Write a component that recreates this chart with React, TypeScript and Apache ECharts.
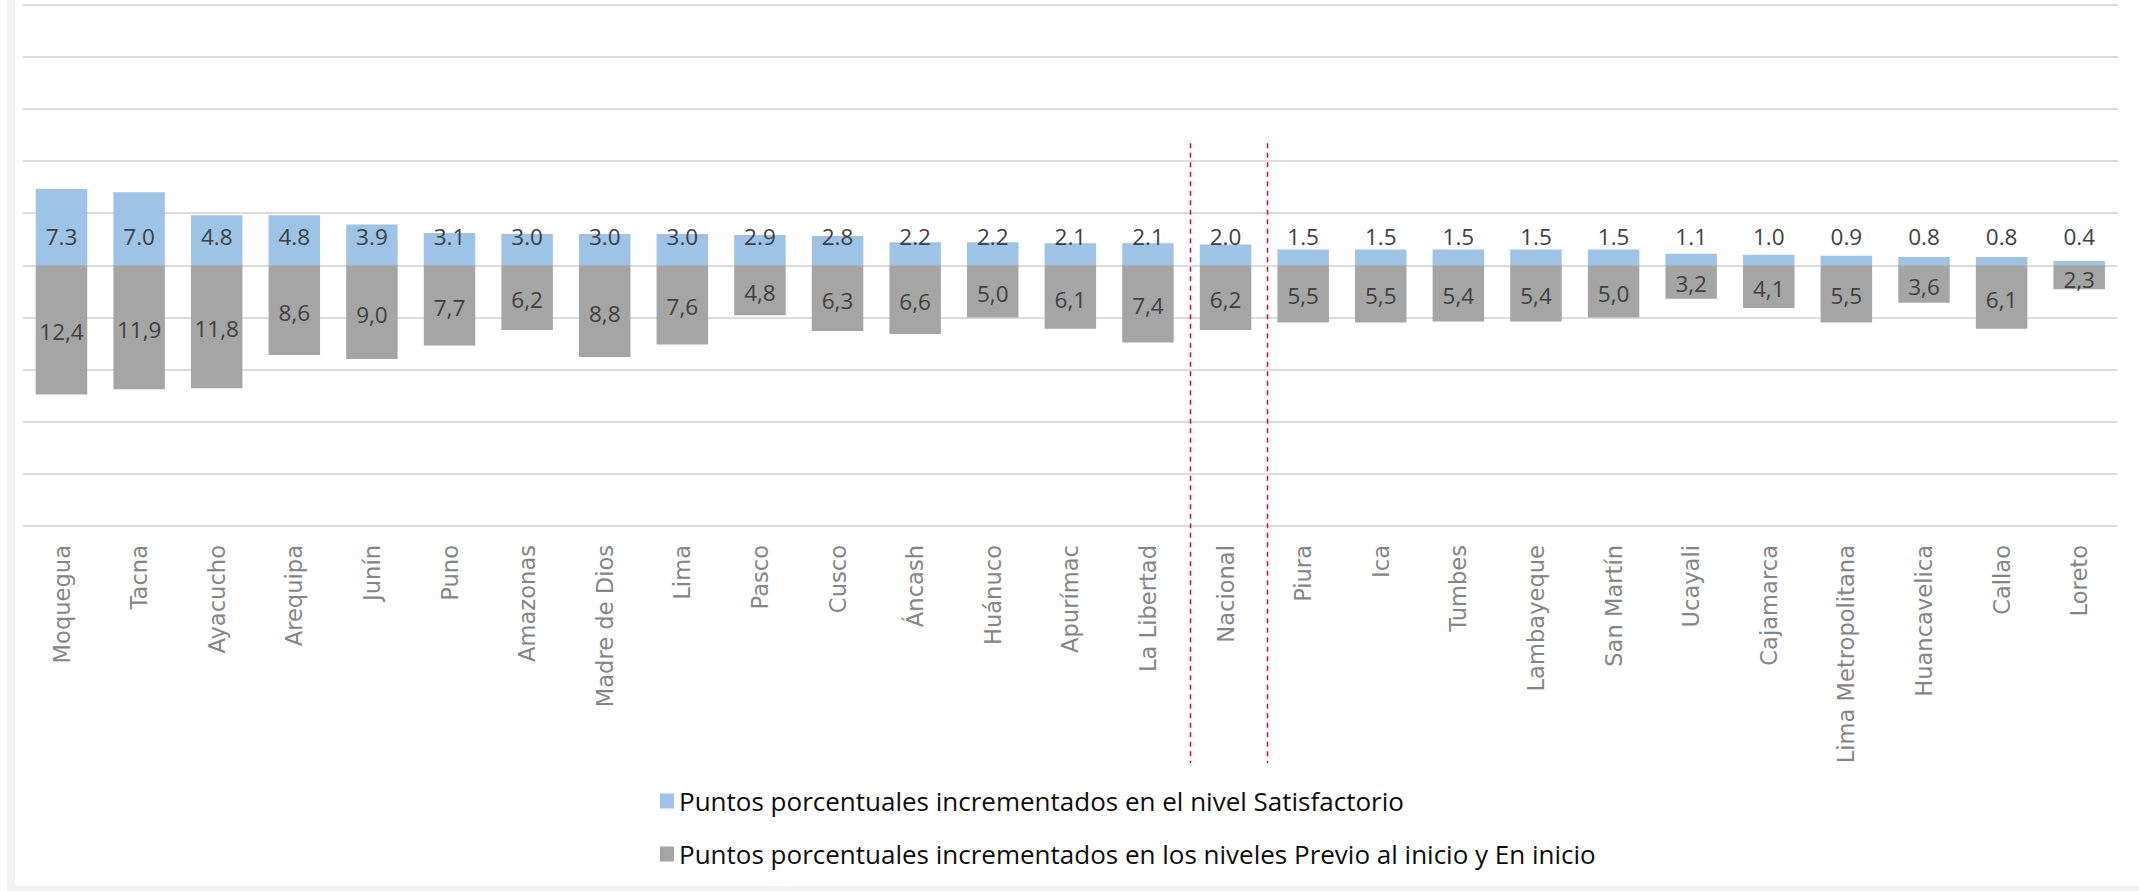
import React, { useEffect, useRef } from "react";
import * as echarts from "echarts";

const CATEGORIES = [
  "Moquegua", "Tacna", "Ayacucho", "Arequipa", "Junín", "Puno", "Amazonas",
  "Madre de Dios", "Lima", "Pasco", "Cusco", "Áncash", "Huánuco", "Apurímac",
  "La Libertad", "Nacional", "Piura", "Ica", "Tumbes", "Lambayeque",
  "San Martín", "Ucayali", "Cajamarca", "Lima Metropolitana", "Huancavelica",
  "Callao", "Loreto",
];

const SATISFACTORIO = [
  7.3, 7.0, 4.8, 4.8, 3.9, 3.1, 3.0, 3.0, 3.0, 2.9, 2.8, 2.2, 2.2, 2.1, 2.1,
  2.0, 1.5, 1.5, 1.5, 1.5, 1.5, 1.1, 1.0, 0.9, 0.8, 0.8, 0.4,
];

const PREVIO_EN_INICIO = [
  -12.4, -11.9, -11.8, -8.6, -9.0, -7.7, -6.2, -8.8, -7.6, -4.8, -6.3, -6.6,
  -5.0, -6.1, -7.4, -6.2, -5.5, -5.5, -5.4, -5.4, -5.0, -3.2, -4.1, -5.5,
  -3.6, -6.1, -2.3,
];

const SERIES_NAMES = [
  "Puntos porcentuales incrementados en el nivel Satisfactorio",
  "Puntos porcentuales incrementados en los niveles Previo al inicio y En inicio",
];

// dividers drawn after these category indices (around "Nacional")
const DIVIDER_AFTER = [14, 15];
const DIVIDER_TOP_VALUE = 11.7;

const Y_MIN = -25;
const Y_MAX = 25;
const Y_INTERVAL = 5;

export default function App() {
  const ref = useRef<HTMLDivElement>(null);

  useEffect(() => {
    document.body.style.margin = "0";
    if (!ref.current) return;
    const chart = echarts.init(ref.current, undefined, { renderer: "svg" });

    const option: any = {
      animation: false,
      backgroundColor: "#ffffff",
      grid: { left: 22.7, right: 21, top: 4.5, bottom: 365, containLabel: false },
      legend: {
        data: SERIES_NAMES,
        orient: "vertical",
        left: 655,
        top: 783,
        itemWidth: 14,
        itemHeight: 15,
        itemGap: 27,
        icon: "rect",
        textStyle: {
          fontFamily: "'Open Sans', sans-serif",
          fontSize: 26,
          color: "#0D0D0D",
        },
      },
      xAxis: {
        type: "category",
        data: CATEGORIES,
        axisLine: { show: false },
        axisTick: { show: false },
        axisLabel: {
          interval: 0,
          rotate: 90,
          margin: 19,
          color: "#858585",
          fontFamily: "'DejaVu Sans', sans-serif",
          fontSize: 22.6,
        },
        splitLine: { show: false },
      },
      yAxis: {
        type: "value",
        min: Y_MIN,
        max: Y_MAX,
        interval: Y_INTERVAL,
        axisLabel: { show: false },
        axisLine: { show: false },
        axisTick: { show: false },
        splitLine: { lineStyle: { color: "#DCDCDC", width: 2 } },
      },
      series: [
        {
          name: SERIES_NAMES[0],
          type: "bar",
          data: SATISFACTORIO,
          barWidth: 51.5,
          barGap: "-100%",
          itemStyle: { color: "#9DC3E6" },
          label: {
            show: true,
            position: "insideBottom",
            distance: 17,
            color: "#404040",
            fontFamily: "'Open Sans', sans-serif",
            fontSize: 22.5,
            formatter: (p: any) => Number(p.value).toFixed(1),
          },
        },
        {
          name: SERIES_NAMES[1],
          type: "bar",
          data: PREVIO_EN_INICIO,
          barWidth: 51.5,
          barGap: "-100%",
          itemStyle: { color: "#A5A5A5" },
          label: {
            show: true,
            position: "inside",
            offset: [0, 2],
            color: "#404040",
            fontFamily: "'Open Sans', sans-serif",
            fontSize: 22.5,
            formatter: (p: any) => Math.abs(Number(p.value)).toFixed(1).replace(".", ","),
          },
        },
        {
          name: "divisores",
          type: "custom",
          silent: true,
          data: DIVIDER_AFTER.map((i) => [i, DIVIDER_TOP_VALUE]),
          encode: { x: 0, y: 1 },
          z: 5,
          renderItem: (params: any, api: any) => {
            const i = api.value(0);
            const c0 = api.coord([i, 0]);
            const c1 = api.coord([i + 1, 0]);
            const x = Math.round(c0[0] + 0.54 * (c1[0] - c0[0])) + 0.5;
            const y1 = api.coord([i, api.value(1)])[1];
            const y2 = params.coordSys.y + params.coordSys.height + 237;
            return {
              type: "line",
              shape: { x1: x, y1, x2: x, y2 },
              style: { stroke: "#C8102E", lineWidth: 1.5, lineDash: [5, 4.5] },
            };
          },
        },
      ],
      graphic: [
        { type: "rect", shape: { x: 7, y: 0, width: 8, height: 891 }, style: { fill: "#F2F2F2" }, silent: true },
        { type: "rect", shape: { x: 7, y: 886, width: 2132, height: 5 }, style: { fill: "#F2F2F2" }, silent: true },
      ],
    };

    chart.setOption(option);
    return () => chart.dispose();
  }, []);

  return <div ref={ref} style={{ width: 2139, height: 891 }} />;
}
